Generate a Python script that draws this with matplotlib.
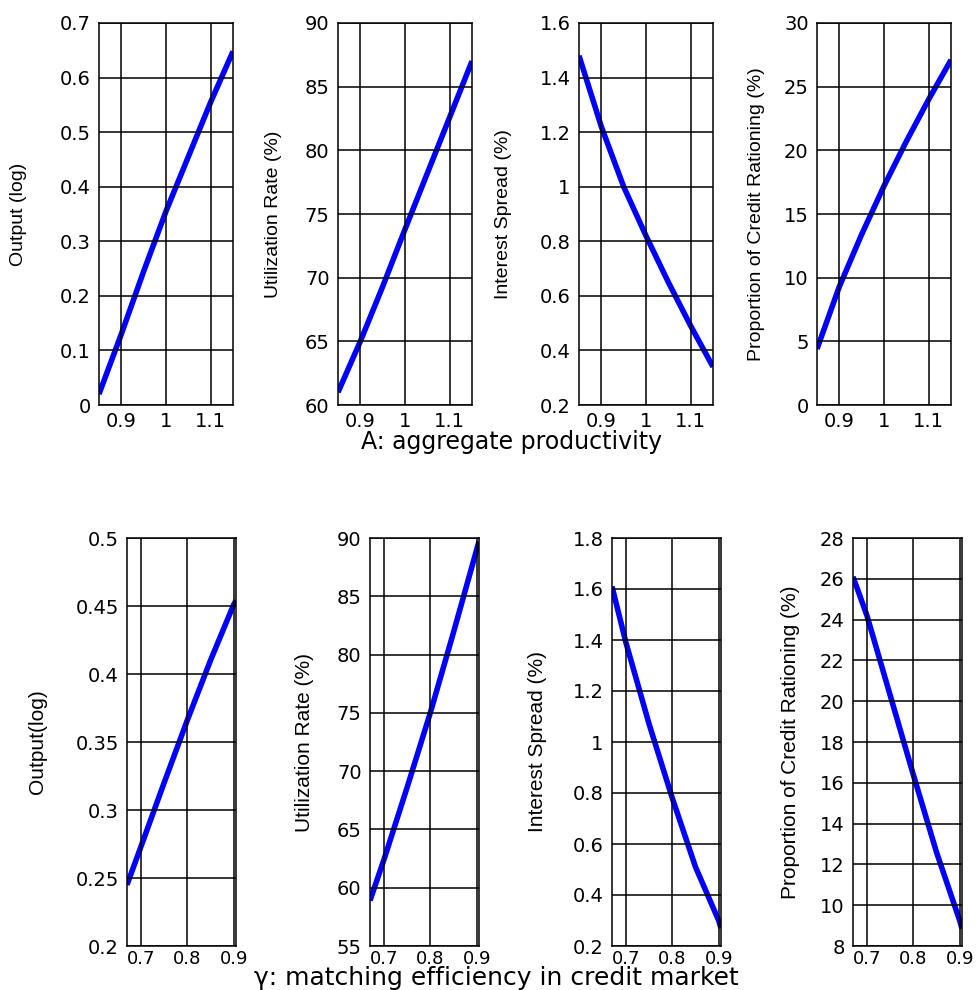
import matplotlib
matplotlib.use("Agg")
from matplotlib import pyplot as plt

# x grids
top_x = [0.85, 0.90, 0.95, 1.00, 1.05, 1.10, 1.15]
bottom_x = [0.67, 0.70, 0.75, 0.80, 0.85, 0.90, 0.905]

# top row: A, aggregate productivity
top_output = [0.02, 0.13, 0.245, 0.355, 0.455, 0.555, 0.648]
top_util = [61.0, 65.0, 69.3, 73.8, 78.2, 82.6, 87.0]
top_spread = [1.48, 1.22, 1.00, 0.82, 0.65, 0.49, 0.34]
top_ration = [4.4, 9.3, 13.4, 17.2, 20.7, 24.0, 27.1]

# bottom row: gamma, matching efficiency
bot_output = [0.245, 0.273, 0.320, 0.366, 0.410, 0.451, 0.454]
bot_util = [58.9, 62.4, 68.6, 75.0, 81.9, 89.0, 89.7]
bot_spread = [1.61, 1.39, 1.07, 0.78, 0.51, 0.30, 0.27]
bot_ration = [26.1, 24.2, 20.3, 16.4, 12.6, 9.25, 8.85]

top_xticks = [0.9, 1.0, 1.1]
top_xlabels = ["0.9", "1", "1.1"]
bot_xticks = [0.7, 0.8, 0.9]
bot_xlabels = ["0.7", "0.8", "0.9"]

top_ylabels = ["Output (log)", "Utilization Rate (%)", "Interest Spread (%)",
               "Proportion of Credit Rationing (%)"]
bot_ylabels = ["Output(log)", "Utilization Rate (%)", "Interest Spread (%)",
               "Proportion of Credit Rationing (%)"]

top_yticks = [
    [0, 0.1, 0.2, 0.3, 0.4, 0.5, 0.6, 0.7],
    [60, 65, 70, 75, 80, 85, 90],
    [0.2, 0.4, 0.6, 0.8, 1.0, 1.2, 1.4, 1.6],
    [0, 5, 10, 15, 20, 25, 30],
]
bot_yticks = [
    [0.2, 0.25, 0.3, 0.35, 0.4, 0.45, 0.5],
    [55, 60, 65, 70, 75, 80, 85, 90],
    [0.2, 0.4, 0.6, 0.8, 1.0, 1.2, 1.4, 1.6, 1.8],
    [8, 10, 12, 14, 16, 18, 20, 22, 24, 26, 28],
]

W, H = 979, 990
fig = plt.figure(figsize=(W / 100, H / 100), dpi=100)

label_font = ["Liberation Sans", "DejaVu Sans"]


def make_axes(left, top, bottom, width, x, y, xticks, xlabels, yticks, ylabel,
              label_x, label_size, xpad, xsize):
    ax = fig.add_axes([left / W, 1 - bottom / H, width / W, (bottom - top) / H])
    ax.plot(x, y, color="#0000ff", linewidth=4, solid_capstyle="butt")
    ax.set_xlim(x[0], x[-1])
    ax.set_ylim(yticks[0], yticks[-1])
    ax.set_xticks(xticks)
    ax.set_xticklabels(xlabels)
    ax.set_yticks(yticks)
    ax.set_yticklabels(["%g" % v for v in yticks])
    ax.grid(True, color="black", linewidth=1.1, linestyle="-")
    ax.set_axisbelow(False)
    for s in ax.spines.values():
        s.set_linewidth(1.1)
        s.set_color("black")
    ax.tick_params(axis="both", length=0, colors="black")
    ax.tick_params(axis="y", pad=6, labelsize=14)
    ax.tick_params(axis="x", pad=xpad, labelsize=xsize)
    ax.set_ylabel(ylabel, family=label_font, fontsize=label_size)
    ax.yaxis.set_label_coords(label_x, 0.5)
    return ax


top_series = [top_output, top_util, top_spread, top_ration]
top_lefts = [99, 338, 579, 817]
top_label_x = [-0.537, -0.418, -0.50, -0.39]
for i in range(4):
    make_axes(top_lefts[i], 23, 405, 134, top_x, top_series[i], top_xticks,
              top_xlabels, top_yticks[i], top_ylabels[i], top_label_x[i], 14, 5, 14)

bot_series = [bot_output, bot_util, bot_spread, bot_ration]
bot_lefts = [127, 370, 612, 853]
bot_label_x = [-0.73, -0.51, -0.60, -0.49]
for i in range(4):
    make_axes(bot_lefts[i], 538, 946, 109, bottom_x, bot_series[i], bot_xticks,
              bot_xlabels, bot_yticks[i], bot_ylabels[i], bot_label_x[i], 15, 3, 13)

fig.text(512 / W, 1 - 449 / H, "A: aggregate productivity", ha="center",
         va="baseline", fontsize=17)
fig.text(496 / W, 1 - 985 / H, "\u03b3: matching efficiency in credit market",
         ha="center", va="baseline", fontsize=18)

fig.savefig("out.png", dpi=100)
